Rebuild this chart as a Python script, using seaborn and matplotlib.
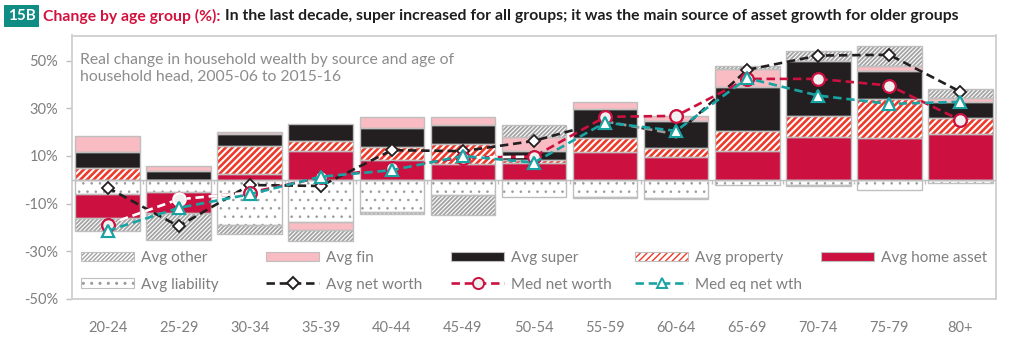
import numpy as np
import matplotlib
matplotlib.use("Agg")
import matplotlib.pyplot as plt
import seaborn as sns
from matplotlib.patches import Rectangle, Patch
from matplotlib.lines import Line2D
from matplotlib.legend_handler import HandlerTuple

# ---------------- data ----------------
ages = ["20-24", "25-29", "30-34", "35-39", "40-44", "45-49", "50-54",
        "55-59", "60-64", "65-69", "70-74", "75-79", "80+"]
avg_liability = [-5.9, -5.2, -18.8, -17.6, -13.4, -6.4, -7.1, -7.3, -7.5, -2.2, -2.0, -4.5, -1.2]
avg_home = [-10.1, -8.7, 2.3, 12.0, 8.2, 6.5, 7.2, 11.8, 9.6, 12.1, 18.0, 17.4, 19.4]
avg_property = [5.1, 0.0, 11.9, 4.1, 5.6, 8.7, 1.0, 5.9, 3.9, 8.4, 8.8, 16.5, 6.5]
avg_super = [6.6, 3.7, 5.2, 7.3, 7.7, 7.7, 3.9, 11.9, 11.0, 18.3, 22.9, 11.9, 6.6]
avg_fin = [6.6, 1.9, 0.8, -3.3, 4.9, 3.5, 5.9, 3.1, 2.1, 7.7, -0.6, 2.1, 1.6]
avg_other = [-5.6, -11.2, -3.9, -4.9, -0.9, -8.2, 4.9, -0.5, -0.7, 1.0, 4.2, 8.4, 4.0]
avg_net_worth = [-3.3, -19.5, -2.2, -2.6, 12.4, 12.0, 16.3, 24.5, 19.1, 46.1, 52.1, 52.4, 36.9]
med_net_worth = [-18.8, -8.2, -5.4, 1.0, 5.0, 9.3, 9.7, 26.4, 26.8, 42.3, 42.3, 39.5, 25.0]
med_eq_net_wth = [-21.4, -11.8, -6.1, 1.3, 4.0, 10.0, 7.2, 24.0, 20.5, 42.6, 35.3, 31.8, 32.7]
yticks = [50, 30, 10, -10, -30, -50]

title_tag = "15B"
title_red = "Change by age group (%):"
title_rest = "In the last decade, super increased for all groups; it was the main source of asset growth for older groups"
subtitle = "Real change in household wealth by source and age of\nhousehold head, 2005-06 to 2015-16"

# ---------------- style ----------------
sns.set_theme(style="white")
plt.rcParams["font.family"] = ["Lato", "DejaVu Sans"]

CRIMSON = "#cc1040"
PINK = "#f8bcc2"
BLACK = "#231f20"
PROP_RED = "#ee3a2a"
OTHER_GRAY = "#a3a3a3"
DOT_GRAY = "#9a9a9a"
TEAL = "#19a3a3"
EDGE = "#bfbfbf"
TXT = "#7f7f7f"

HATCH = {
    "liab": dict(hatch="..", color=DOT_GRAY, lw=0.6),
    "prop": dict(hatch="/////", color=PROP_RED, lw=1.9),
    "other": dict(hatch="////////", color=OTHER_GRAY, lw=1.3),
}

W, H = 1009, 338
fig = plt.figure(figsize=(W / 100, H / 100), dpi=100)
ax = fig.add_axes([72 / W, 1 - 299 / H, (996 - 72) / W, (299 - 35.5) / H])

x = np.arange(len(ages))
bw = 0.91


def hatched_bar(xs, v, bottom, key, **kw):
    hs = HATCH[key]
    with plt.rc_context({"hatch.linewidth": hs["lw"]}):
        bars = ax.bar(xs, v, bw, bottom=bottom, facecolor="white", edgecolor=hs["color"],
                      linewidth=0, hatch=hs["hatch"], **kw)
        for b in bars:
            if hasattr(b, "set_hatch_linewidth"):
                b.set_hatch_linewidth(hs["lw"])
    return bars


series = [
    ("Avg liability", avg_liability, "liab", None),
    ("Avg home asset", avg_home, None, CRIMSON),
    ("Avg property", avg_property, "prop", None),
    ("Avg super", avg_super, None, BLACK),
    ("Avg fin", avg_fin, None, PINK),
    ("Avg other", avg_other, "other", None),
]

pos = np.zeros(len(ages))
neg = np.zeros(len(ages))
for name, vals, hkey, fc in series:
    v = np.array(vals, dtype=float)
    bottom = np.where(v >= 0, pos, neg)
    if hkey:
        hatched_bar(x, v, bottom, hkey, zorder=2)
    else:
        ax.bar(x, v, bw, bottom=bottom, facecolor=fc, linewidth=0, zorder=2)
    ax.bar(x, v, bw, bottom=bottom, fill=False, edgecolor=EDGE, linewidth=1.0, zorder=3)
    pos = pos + np.where(v >= 0, v, 0)
    neg = neg + np.where(v < 0, v, 0)

# zero line with category-boundary ticks
ax.axhline(0, color=EDGE, lw=1.0, zorder=3.5)
bounds = np.arange(len(ages) + 1) - 0.5
ax.vlines(bounds[1:-1], -1.8, 0, color=EDGE, lw=1.0, zorder=3.5)

# lines
dash = (0, (3.2, 1.8))
lw = 1.9
sns.lineplot(x=x, y=avg_net_worth, ax=ax, color=BLACK, linestyle=dash, lw=lw,
             marker="D", markersize=6.5, markerfacecolor="white", markeredgecolor=BLACK,
             markeredgewidth=1.3, zorder=5)
sns.lineplot(x=x, y=med_net_worth, ax=ax, color=CRIMSON, linestyle=dash, lw=lw,
             marker="o", markersize=9, markerfacecolor="#f0f0f0", markeredgecolor=CRIMSON,
             markeredgewidth=1.5, zorder=6)
sns.lineplot(x=x, y=med_eq_net_wth, ax=ax, color=TEAL, linestyle=dash, lw=lw,
             marker="^", markersize=8.5, markerfacecolor="white", markeredgecolor=TEAL,
             markeredgewidth=1.5, zorder=7)

# re-coloured segments for visibility over same-coloured bars
ax.plot(x[0:3], med_net_worth[0:3], color="white", linestyle=dash, lw=lw, zorder=6.1)
ax.plot(x[5:7], med_net_worth[5:7], color="white", linestyle=dash, lw=lw, zorder=6.1)
ax.plot(x[7:9], avg_net_worth[7:9], color="#9a9a9a", linestyle=dash, lw=lw, zorder=5.1)
ax.plot(x, med_net_worth, linestyle="none", marker="o", markersize=9, markerfacecolor="#f0f0f0",
        markeredgecolor=CRIMSON, markeredgewidth=1.5, zorder=6.2)
ax.plot(x[1:2], med_net_worth[1:2], linestyle="none", marker="o", markersize=9,
        markerfacecolor="#f0f0f0", markeredgecolor="white", markeredgewidth=1.5, zorder=6.3)
ax.plot(x, med_eq_net_wth, linestyle="none", marker="^", markersize=8.5, markerfacecolor="white",
        markeredgecolor=TEAL, markeredgewidth=1.5, zorder=7.2)

# axes styling
ax.set_xlim(-0.5, len(ages) - 0.5)
ax.set_ylim(-50, 60.5)
ax.set_yticks(yticks)
ax.set_yticklabels([f"{t}%" for t in yticks])
ax.set_xticks(x)
ax.set_xticklabels(ages)
ax.tick_params(axis="y", length=4, width=1, color=EDGE, pad=6, labelsize=10.5, labelcolor=TXT, left=True)
ax.tick_params(axis="x", length=0, pad=16, labelsize=10.5, labelcolor=TXT)
for s in ax.spines.values():
    s.set_color("#cfcfcf")
    s.set_linewidth(1.3)
ax.set_xlabel("")
ax.set_ylabel("")
ax.grid(False)

ax.text(8 / 924, 1 - 17.5 / 263.5, subtitle, transform=ax.transAxes, ha="left", va="top",
        fontsize=11.3, color="#8c8c8c", linespacing=1.25)


# legends (Excel-like fixed column grid)
def patch_handle(fc):
    return Patch(facecolor=fc, edgecolor=EDGE, linewidth=0.8)


def hatch_handle(key):
    hs = HATCH[key]
    with plt.rc_context({"hatch.linewidth": hs["lw"]}):
        p = Patch(facecolor="white", edgecolor=hs["color"], hatch=hs["hatch"], linewidth=0)
        if hasattr(p, "set_hatch_linewidth"):
            p.set_hatch_linewidth(hs["lw"])
    return (p, Patch(fill=False, edgecolor=EDGE, linewidth=0.8))


def line_handle(color, marker, ms, mfc):
    return Line2D([], [], color=color, linestyle=dash, lw=lw, marker=marker, markersize=ms,
                  markerfacecolor=mfc, markeredgecolor=color, markeredgewidth=1.4)


h_other = hatch_handle("other")
h_fin = patch_handle(PINK)
h_super = patch_handle(BLACK)
h_prop = hatch_handle("prop")
h_home = patch_handle(CRIMSON)
h_liab = hatch_handle("liab")
h_anw = line_handle(BLACK, "D", 6, "white")
h_mnw = line_handle(CRIMSON, "o", 8, "#f0f0f0")
h_meq = line_handle(TEAL, "^", 7.5, "white")

cols = [
    ([h_other, h_liab], ["Avg other", "Avg liability"]),
    ([h_fin, h_anw], ["Avg fin", "Avg net worth"]),
    ([h_super, h_mnw], ["Avg super", "Med net worth"]),
    ([h_prop, h_meq], ["Avg property", "Med eq net wth"]),
    ([h_home], ["Avg home asset"]),
]
col_x = [81, 266, 451, 635, 821]
for i, ((hs, ls), cx) in enumerate(zip(cols, col_x)):
    leg = ax.legend(hs, ls, loc="upper left", bbox_to_anchor=(cx / W, 1 - 251 / H),
                    bbox_transform=fig.transFigure, frameon=False, fontsize=11,
                    handlelength=3.5, handleheight=0.6, handletextpad=0.4,
                    borderpad=0, borderaxespad=0, labelspacing=0.82, labelcolor=TXT,
                    handler_map={tuple: HandlerTuple(ndivide=1, pad=0)})
    if i < len(cols) - 1:
        ax.add_artist(leg)

# title
fig.patches.append(Rectangle((4 / W, 1 - 27 / H), 35 / W, 22 / H, transform=fig.transFigure,
                             facecolor="#0f8c84", edgecolor="none"))
fig.text(21.5 / W, 1 - 16 / H, title_tag, color="white", weight="bold", fontsize=11,
         ha="center", va="center")

r = fig.canvas.get_renderer()
target = 958 - 43
fs = 11.0
for _ in range(3):
    t1 = fig.text(43 / W, 1 - 16 / H, title_red, color="#d3123f", weight="bold",
                  fontsize=fs, ha="left", va="center")
    b1 = t1.get_window_extent(r)
    t2 = fig.text((b1.x1 + 5) / W, 1 - 16 / H, title_rest, color="#1e1e1e", weight="bold",
                  fontsize=fs, ha="left", va="center")
    b2 = t2.get_window_extent(r)
    total = b2.x1 - 43
    if abs(total - target) < 2:
        break
    t1.remove()
    t2.remove()
    fs = fs * target / total

fig.savefig("out.png", dpi=100)
